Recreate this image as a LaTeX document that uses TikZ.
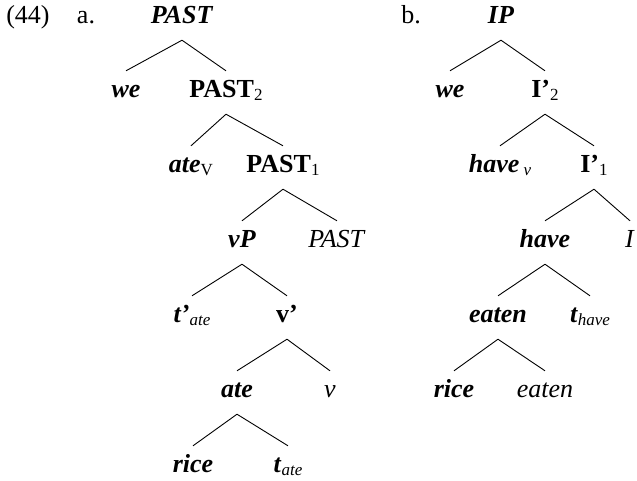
\documentclass[tikz,border=0pt]{standalone}
\usepackage{fontspec}
\setmainfont{Liberation Serif}
\newcommand{\lowsub}[1]{\raisebox{-0.3ex}{\fontsize{17}{17}\selectfont #1}}
\newcommand{\bi}[1]{\textbf{\textit{#1}}}
\tikzset{
  word/.style={anchor=base, inner sep=0pt, text height=26pt, text depth=17pt, font=\fontsize{26}{30}\selectfont},
  branch/.style={line width=0.9pt}
}
\begin{document}
\begin{tikzpicture}[x=1pt, y=-1pt]
    \useasboundingbox (0,0) rectangle (637,480);
    \clip (0,0) rectangle (637,480);

    % Labels
    \node[word] (num) at (28,23) {(44)};
    \node[word] (lba) at (86,23) {a.};
    \node[word] (lbb) at (411,23) {b.};

    % Tree a
    \node[word] (pastA) at (182,23) {\bi{PAST}};
    \node[word] (weA) at (126,97) {\bi{we}};
    \node[word] (pastB) at (226,97) {\textbf{PAST}\lowsub{2}};
    \node[word] (ateV) at (191,172) {\bi{ate}\lowsub{V}};
    \node[word] (pastC) at (283,172) {\textbf{PAST}\lowsub{1}};
    \node[word] (vP) at (242,247) {\bi{νP}};
    \node[word] (pastD) at (337,247) {\textit{PAST}};
    \node[word] (tateA) at (192,322) {\bi{t'}\lowsub{\textit{ate}}};
    \node[word] (vbar) at (287,322) {\textbf{v'}};
    \node[word] (ate) at (237,397) {\bi{ate}};
    \node[word] (nu) at (330,397) {\textit{ν}};
    \node[word] (riceA) at (193,472) {\bi{rice}};
    \node[word] (tateB) at (288,472) {\bi{t}\lowsub{\textit{ate}}};

    % Tree b
    \node[word] (ip) at (501,23) {\bi{IP}};
    \node[word] (weB) at (450,97) {\bi{we}};
    \node[word] (ibarB) at (545,97) {\textbf{I'}\lowsub{2}};
    \node[word] (havenu) at (500,172) {\bi{have}\,\lowsub{\textit{ν}}};
    \node[word] (ibarA) at (594,172) {\textbf{I'}\lowsub{1}};
    \node[word] (have) at (545,247) {\bi{have}};
    \node[word] (iright) at (630,247) {\textit{I}};
    \node[word] (eatenA) at (498,322) {\bi{eaten}};
    \node[word] (thave) at (590,322) {\bi{t}\lowsub{\textit{have}}};
    \node[word] (riceB) at (454,397) {\bi{rice}};
    \node[word] (eatenB) at (545,397) {\textit{eaten}};

    % Branches
    \foreach \p/\c in {pastA/weA, pastA/pastB, pastB/ateV, pastB/pastC,
                       pastC/vP, pastC/pastD, vP/tateA, vP/vbar,
                       vbar/ate, vbar/nu, ate/riceA, ate/tateB,
                       ip/weB, ip/ibarB, ibarB/havenu, ibarB/ibarA,
                       ibarA/have, ibarA/iright, have/eatenA, have/thave,
                       eatenA/riceB, eatenA/eatenB}
        \draw[branch] (\p.south) -- (\c.north);
\end{tikzpicture}
\end{document}
